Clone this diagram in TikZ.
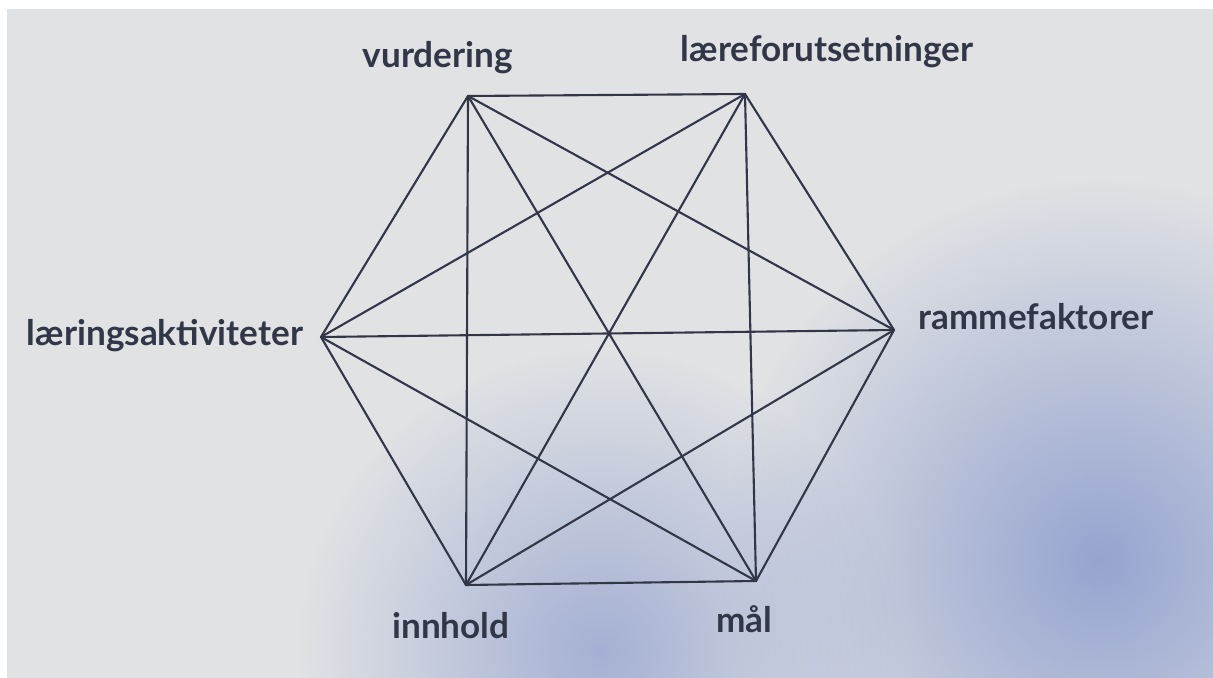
\documentclass[tikz,border=0pt]{standalone}
\usepackage{fontspec}
\setmainfont{Lato}
\usetikzlibrary{fadings}
\definecolor{ink}{RGB}{50,55,72}
\definecolor{paper}{RGB}{224,226,228}
\definecolor{smudge}{RGB}{150,164,208}
\tikzfading[name=blotch, inner color=transparent!0, outer color=transparent!100]
\tikzset{
  edge/.style={draw=ink, line width=1.2pt, line cap=round},
  lbl/.style={text=ink, font=\fontsize{20}{23}\selectfont\bfseries, anchor=base, inner sep=0pt}
}
\begin{document}
\begin{tikzpicture}[x=0.02cm,y=-0.02cm]
\useasboundingbox (0,0) rectangle (1213,678);
\fill[white] (0,0) rectangle (1213,678);
\begin{scope}
\clip (7,9) rectangle (1213,678);
\fill[paper] (7,9) rectangle (1213,678);
\fill[smudge, path fading=blotch] (1100,560) circle (380);
\fill[smudge, path fading=blotch, fill opacity=0.8] (600,650) circle (300);
\end{scope}

% corners of the hexagon
\coordinate (vurd) at (468,96);
\coordinate (laere) at (745,94);
\coordinate (aktiv) at (321,337);
\coordinate (ramme) at (894,330);
\coordinate (innh) at (466,585);
\coordinate (maal) at (756,581);

\foreach \a/\b in {vurd/laere, vurd/aktiv, vurd/ramme, vurd/innh, vurd/maal,
  laere/aktiv, laere/ramme, laere/innh, laere/maal,
  aktiv/ramme, aktiv/innh, aktiv/maal,
  ramme/innh, ramme/maal, innh/maal}
  \draw[edge] (\a) -- (\b);

\node[lbl] (vurdL) at (438,68) {vurdering};
\node[lbl] (laereL) at (827,62) {læreforutsetninger};
\node[lbl] (aktivL) at (165,346) {læringsaktiviteter};
\node[lbl] (rammeL) at (1036,330) {rammefaktorer};
\node[lbl] (innhL) at (451,638) {innhold};
\node[lbl] (maalL) at (744,632) {mål};
\end{tikzpicture}
\end{document}
